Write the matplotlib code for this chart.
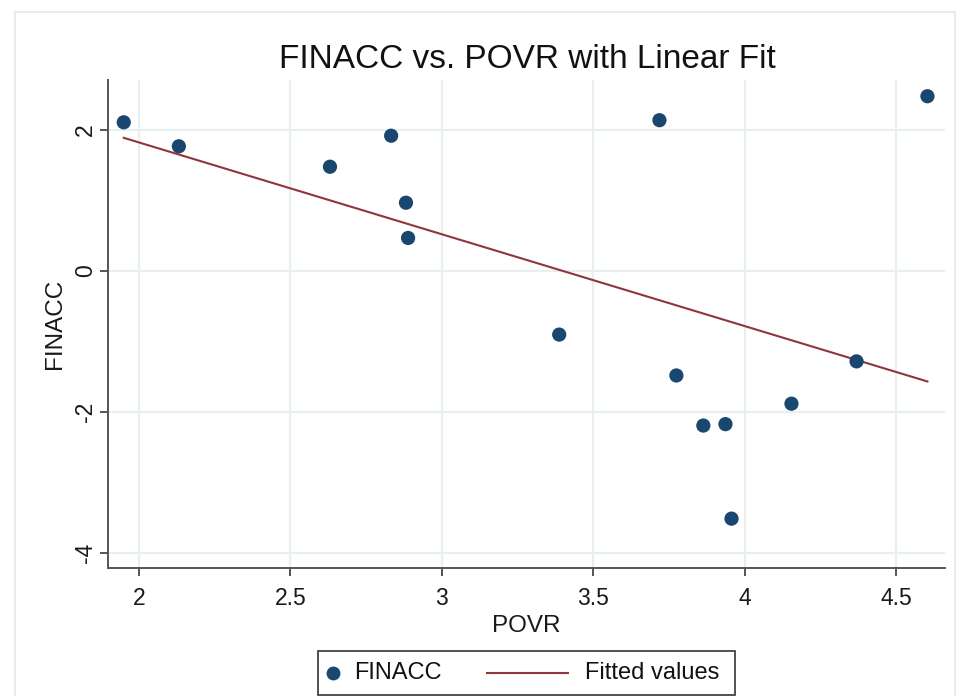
import matplotlib
matplotlib.use('Agg')
import matplotlib.pyplot as plt
from matplotlib.patches import Rectangle
from matplotlib.lines import Line2D

# data
povr = [1.95, 2.132, 2.631, 2.833, 2.882, 2.889, 3.388, 3.719, 3.775,
        3.864, 3.937, 3.957, 4.155, 4.370, 4.604]
finacc = [2.11, 1.77, 1.48, 1.92, 0.97, 0.47, -0.90, 2.14, -1.48,
          -2.19, -2.17, -3.51, -1.88, -1.28, 2.48]
fit_x = [1.95, 4.604]
fit_y = [1.89, -1.565]

x_ticks = [2, 2.5, 3, 3.5, 4, 4.5]
x_ticklabels = ['2', '2.5', '3', '3.5', '4', '4.5']
y_ticks = [-4, -2, 0, 2]
y_ticklabels = ['-4', '-2', '0', '2']

C_DOT = '#1a476f'
C_FIT = '#90353b'
C_GRID = '#e8eff1'
W, H = 960, 696


def fx(px):
    return px / W


def fy(py):
    return 1 - py / H


plt.rcParams['font.family'] = ['Liberation Sans', 'DejaVu Sans']

fig = plt.figure(figsize=(9.6, 6.96), dpi=100, facecolor='white')
# faint outer frame like the Stata graph region
fig.patches.append(Rectangle((fx(15), -0.01), fx(940), fy(12) + 0.01,
                             transform=fig.transFigure, fill=False,
                             edgecolor='#e4e9eb', lw=1.2, zorder=0))

ax = fig.add_axes([fx(108), fy(568), fx(837), 488 / H])
ax.set_facecolor('white')

ax.scatter(povr, finacc, s=105, color=C_DOT, zorder=4, edgecolors='none')
ax.plot(fit_x, fit_y, color=C_FIT, lw=1.5, zorder=3)

ax.set_xlim(1.898, 4.662)
ax.set_ylim(-4.21, 2.71)
ax.set_xticks(x_ticks)
ax.set_xticklabels(x_ticklabels, fontsize=16.5)
ax.set_yticks(y_ticks)
ax.set_yticklabels(y_ticklabels, fontsize=16.5, rotation=90, va='center')

ax.grid(True, color=C_GRID, lw=1.6, zorder=0)
ax.set_axisbelow(True)
for s in ('top', 'right'):
    ax.spines[s].set_visible(False)
for s in ('left', 'bottom'):
    ax.spines[s].set_color('#555555')
    ax.spines[s].set_linewidth(1.4)
ax.tick_params(direction='out', length=6, width=1.4, color='#555555',
               labelcolor='#1a1a1a')
ax.tick_params(axis='x', pad=8)
ax.tick_params(axis='y', pad=2)

ax.set_xlabel('POVR', fontsize=17.5, color='#1a1a1a', labelpad=3)
ax.set_ylabel('FINACC', fontsize=17.5, color='#1a1a1a', labelpad=6)
fig.text(fx(527), fy(60), 'FINACC vs. POVR with Linear Fit',
         ha='center', va='center', fontsize=24, color='#111111')

# legend drawn by hand, Stata style: short marker key, long line key
fig.patches.append(Rectangle((fx(318), fy(695)), fx(417), 44 / H,
                             transform=fig.transFigure, facecolor='white',
                             edgecolor='#333333', lw=1.2, zorder=5))
fig.lines.append(Line2D([fx(333)], [fy(673)], ls='none', marker='o',
                        markersize=10, color=C_DOT, markeredgewidth=0,
                        transform=fig.transFigure, zorder=6))
fig.text(fx(354), fy(673), 'FINACC', ha='left', va='center', fontsize=17,
         color='#111111', zorder=6)
fig.lines.append(Line2D([fx(487), fx(568)], [fy(673), fy(673)], color=C_FIT,
                        lw=1.5, transform=fig.transFigure, zorder=6))
fig.text(fx(585), fy(673), 'Fitted values', ha='left', va='center',
         fontsize=17, color='#111111', zorder=6)

fig.savefig('out.png', dpi=100, facecolor='white')
